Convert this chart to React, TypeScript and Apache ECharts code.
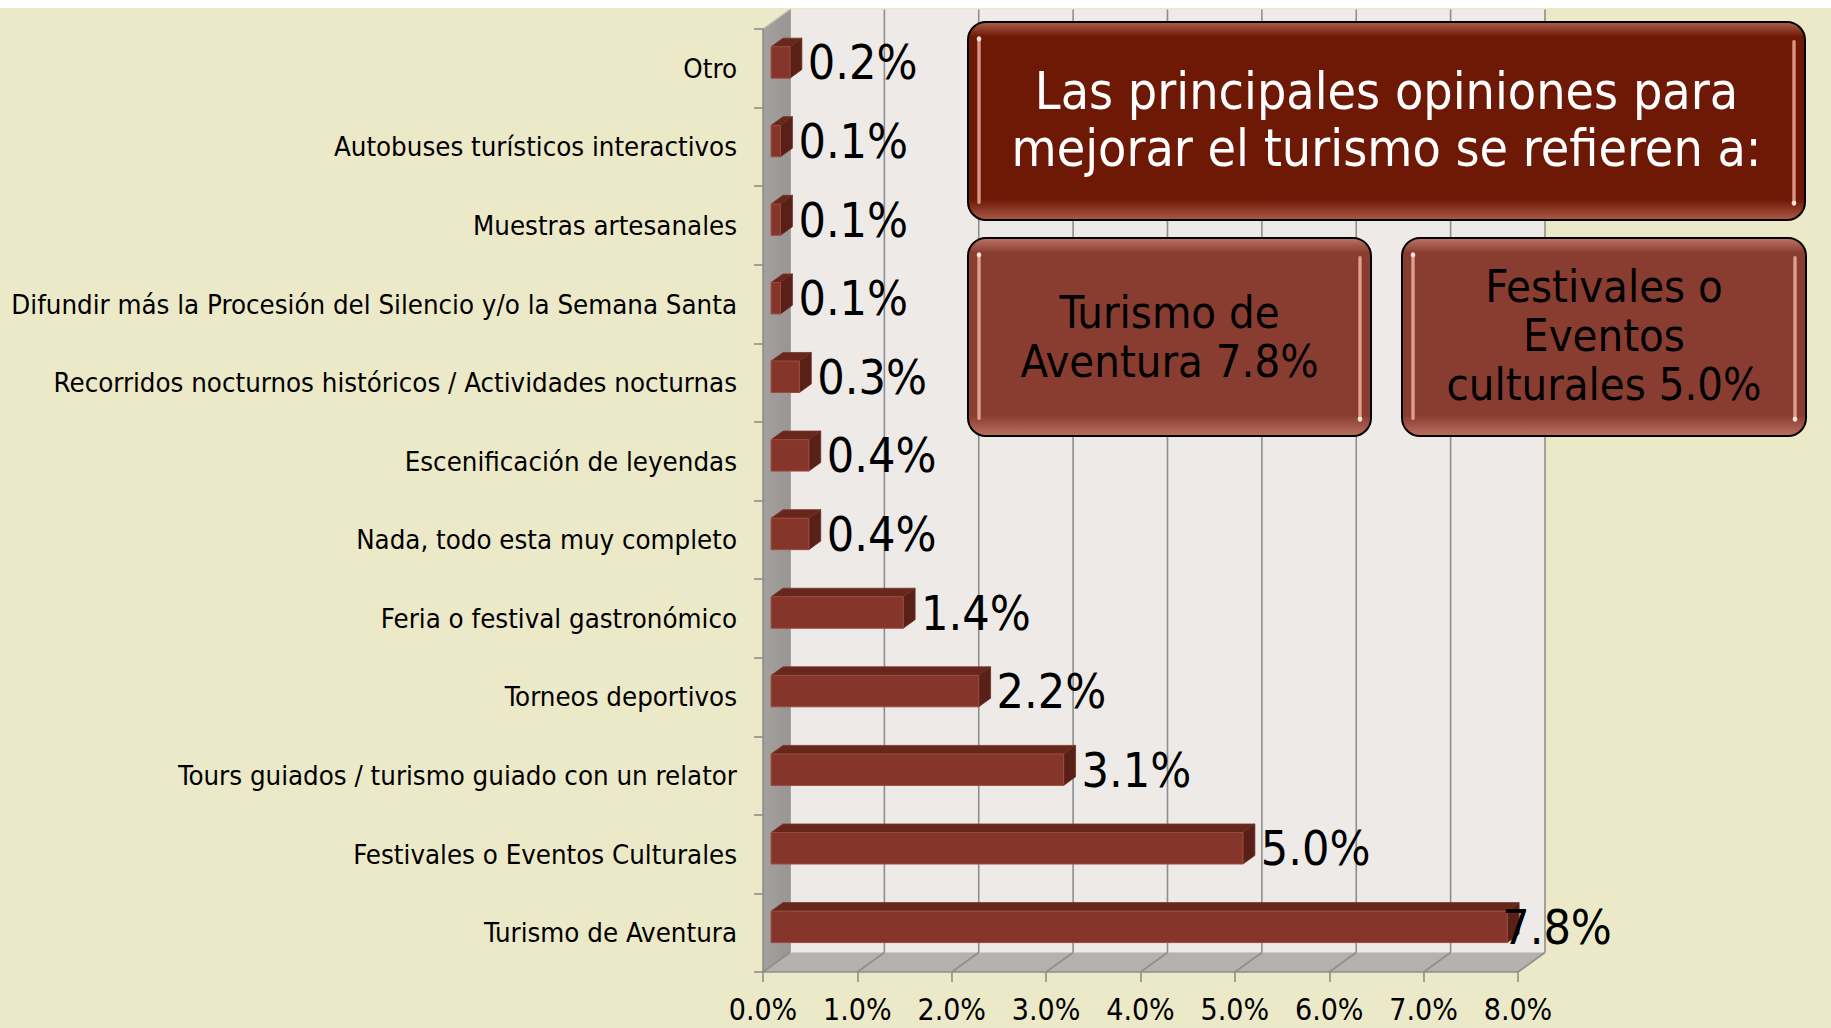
import React, { useEffect, useRef } from "react";
import * as echarts from "echarts";

const categories = [
  "Otro",
  "Autobuses turísticos interactivos",
  "Muestras artesanales",
  "Difundir más la Procesión del Silencio y/o la Semana Santa",
  "Recorridos nocturnos históricos / Actividades nocturnas",
  "Escenificación de leyendas",
  "Nada, todo esta muy completo",
  "Feria o festival gastronómico",
  "Torneos deportivos",
  "Tours guiados / turismo guiado con un relator",
  "Festivales o Eventos Culturales",
  "Turismo de Aventura",
];
const values = [0.2, 0.1, 0.1, 0.1, 0.3, 0.4, 0.4, 1.4, 2.2, 3.1, 5.0, 7.8];
const xTicks = [0, 1, 2, 3, 4, 5, 6, 7, 8];
const titleLines = ["Las principales opiniones para", "mejorar el turismo se refieren a:"];
const box2Lines = ["Turismo de", "Aventura 7.8%"];
const box3Lines = ["Festivales o", "Eventos", "culturales 5.0%"];

const FONT = "'DejaVu Sans Condensed', 'DejaVu Sans', sans-serif";
const DX = 27;
const DY = -19.5;
const GRID_COLOR = "#8E8E8E";

function box(
  x: number, y: number, w: number, h: number, fill: string,
  lines: string[], color: string, fontSize: number, lineHeight: number, dyText: number
) {
  const els: any[] = [];
  els.push({ type: "rect", z: 100, shape: { x, y, width: w, height: h, r: 18 }, style: { fill, stroke: "#000", lineWidth: 2 } });
  els.push({
    type: "rect", z: 101, shape: { x: x + 1, y: y + 1, width: w - 2, height: h - 2, r: 17 },
    style: {
      fill: {
        type: "linear", x: 0, y: 0, x2: 0, y2: 1,
        colorStops: [
          { offset: 0, color: "rgba(255,190,175,0.4)" },
          { offset: 0.07, color: "rgba(255,190,175,0)" },
          { offset: 0.9, color: "rgba(255,180,160,0)" },
          { offset: 1, color: "rgba(255,180,160,0.4)" },
        ],
      },
    },
  });
  const hl = {
    type: "linear", x: 0, y: 0, x2: 1, y2: 0,
    colorStops: [
      { offset: 0, color: "rgba(240,160,140,0.5)" },
      { offset: 0.5, color: "rgba(250,200,185,0.85)" },
      { offset: 1, color: "rgba(240,160,140,0.5)" },
    ],
  };
  els.push({ type: "rect", z: 102, shape: { x: x + 9, y: y + 14, width: 4, height: h - 30, r: 2 }, style: { fill: hl } });
  els.push({ type: "circle", z: 103, shape: { cx: x + 11, cy: y + 17, r: 2.3 }, style: { fill: "#FFE6DE" } });
  els.push({ type: "rect", z: 102, shape: { x: x + w - 13, y: y + 18, width: 4, height: h - 32, r: 2 }, style: { fill: hl } });
  els.push({ type: "circle", z: 103, shape: { cx: x + w - 11, cy: y + h - 17, r: 2.3 }, style: { fill: "#FFE6DE" } });
  els.push({
    type: "text", z: 104, x: x + w / 2, y: y + h / 2 + dyText,
    style: { text: lines.join("\n"), fill: color, fontSize, fontFamily: FONT, align: "center", verticalAlign: "middle", lineHeight },
  });
  return els;
}

function renderWalls(params: any, api: any) {
  const cs = params.coordSys;
  const x = cs.x, y = cs.y, w = cs.width, h = cs.height;
  const ch: any[] = [];
  ch.push({ type: "polygon", shape: { points: [[x + DX, y + DY], [x + w + DX, y + DY], [x + w + DX, y + h + DY], [x + DX, y + h + DY]] }, style: { fill: "#EDEAE8" } });
  ch.push({
    type: "polygon", shape: { points: [[x, y], [x + DX, y + DY], [x + DX, y + h + DY], [x, y + h]] },
    style: { fill: { type: "linear", x: 0, y: 0, x2: 1, y2: 0, colorStops: [{ offset: 0, color: "#A3A09E" }, { offset: 1, color: "#989593" }] } },
  });
  ch.push({ type: "polygon", shape: { points: [[x, y + h], [x + DX, y + h + DY], [x + w + DX, y + h + DY], [x + w, y + h]] }, style: { fill: "#B5B1AF" } });
  xTicks.forEach((t) => {
    const px = api.coord([t, 0])[0];
    ch.push({ type: "line", shape: { x1: px + DX, y1: y + DY, x2: px + DX, y2: y + h + DY }, style: { stroke: GRID_COLOR, lineWidth: 1.6 } });
    ch.push({ type: "line", shape: { x1: px + DX, y1: y + h + DY, x2: px, y2: y + h }, style: { stroke: GRID_COLOR, lineWidth: 1.6 } });
  });
  ch.push({ type: "line", shape: { x1: x, y1: y, x2: x + DX, y2: y + DY }, style: { stroke: "#BDBAB8", lineWidth: 1.5 } });
  ch.push({ type: "line", shape: { x1: x + DX, y1: y + DY, x2: x + DX, y2: y + h + DY }, style: { stroke: "#A8A5A3", lineWidth: 1 } });
  return { type: "group", children: ch };
}

function renderBar(params: any, api: any) {
  const v = api.value(0);
  const idx = api.value(1);
  const p0 = api.coord([0, idx]);
  const p1 = api.coord([v, idx]);
  const band = api.size([0, 1])[1];
  const fdx = DX * 0.3, fdy = DY * 0.3;
  const ddx = DX * 0.44, ddy = DY * 0.44;
  const hh = band * 0.2;
  const x0 = p0[0] + fdx, x1 = p1[0] + fdx;
  const yc = p0[1] + fdy;
  const yt = yc - hh, yb = yc + hh;
  const labelX = v >= 7.5 ? x1 - 5 : x1 + ddx + 6;
  return {
    type: "group",
    children: [
      { type: "polygon", shape: { points: [[x0, yt], [x1, yt], [x1 + ddx, yt + ddy], [x0 + ddx, yt + ddy]] }, style: { fill: "#67271D", stroke: "#7A3528", lineWidth: 0.8 } },
      { type: "polygon", shape: { points: [[x1, yt], [x1 + ddx, yt + ddy], [x1 + ddx, yb + ddy], [x1, yb]] }, style: { fill: "#582017", stroke: "#6E2C22", lineWidth: 0.8 } },
      { type: "rect", shape: { x: x0, y: yt, width: x1 - x0, height: yb - yt }, style: { fill: "#86352A", stroke: "#9C4B3E", lineWidth: 1 } },
      {
        type: "text", x: labelX, y: yc,
        style: { text: v.toFixed(1) + "%", fill: "#000", fontSize: 48, fontFamily: FONT, align: "left", verticalAlign: "middle" },
      },
    ],
  };
}

export default function App() {
  const ref = useRef<HTMLDivElement>(null);
  useEffect(() => {
    const chart = echarts.init(ref.current!, null, { renderer: "svg" });
    const option: any = {
      animation: false,
      backgroundColor: "#ECE9C8",
      grid: { left: 763, top: 29, right: 313, bottom: 56, containLabel: false, outerBoundsMode: "none" },
      xAxis: {
        type: "value", min: 0, max: 8, interval: 1, z: 2,
        axisLine: { show: true, lineStyle: { color: GRID_COLOR, width: 1.6 } },
        axisTick: { show: true, length: 10, lineStyle: { color: GRID_COLOR, width: 1.6 } },
        splitLine: { show: false },
        axisLabel: { formatter: (v: number) => v.toFixed(1) + "%", fontSize: 30, fontFamily: FONT, color: "#000", margin: 22, lineHeight: 30 },
      },
      yAxis: {
        type: "category", data: categories, inverse: true, z: 2,
        axisLine: { show: true, lineStyle: { color: GRID_COLOR, width: 1.6 } },
        axisTick: { show: true, length: 9, interval: 0, lineStyle: { color: GRID_COLOR, width: 1.6 } },
        splitLine: { show: false },
        axisLabel: { fontSize: 27.4, fontFamily: FONT, color: "#000", margin: 26, interval: 0 },
      },
      series: [
        { type: "custom", z: 1, silent: true, renderItem: renderWalls, data: [[0, 0]], clip: false },
        { type: "custom", z: 3, silent: true, renderItem: renderBar, encode: { x: 0, y: 1 }, data: values.map((v, i) => [v, i]), clip: false },
      ],
      graphic: [
        ...box(968, 22, 837, 198, "#6E1806", titleLines, "#FFFFFF", 51.5, 57, -2),
        ...box(968, 238, 403, 198, "#893D30", box2Lines, "#000000", 45, 49, 0),
        ...box(1402, 238, 404, 198, "#893D30", box3Lines, "#000000", 45, 49, -2),
      ],
    };
    chart.setOption(option);
    return () => chart.dispose();
  }, []);
  return (
    <div style={{ position: "absolute", left: 0, top: 0, width: 1831, height: 1028, background: "#fff" }}>
      <div ref={ref} style={{ position: "absolute", left: 0, top: 0, width: 1831, height: 1028 }} />
      <div style={{ position: "absolute", left: 0, top: 0, width: 1831, height: 8, background: "#fff" }} />
    </div>
  );
}
